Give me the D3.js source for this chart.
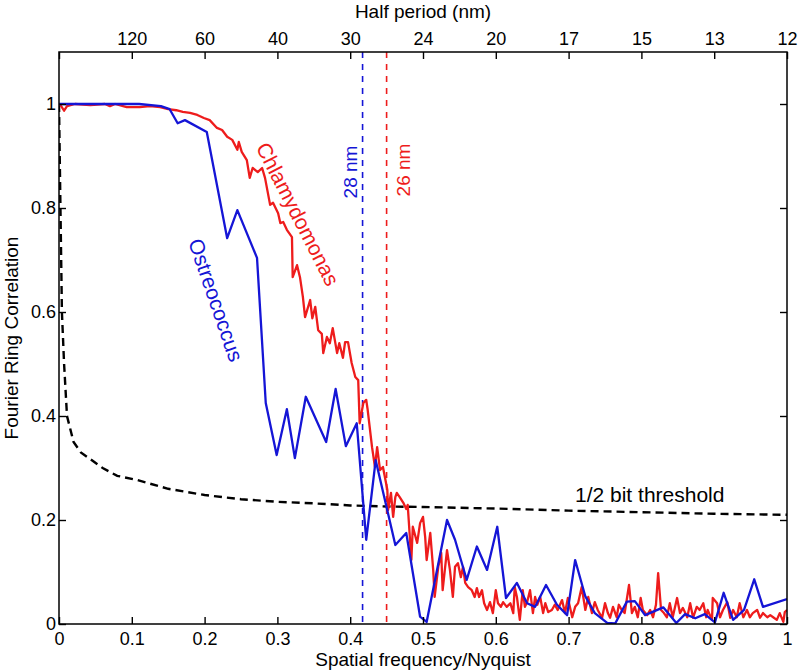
<!DOCTYPE html>
<html>
<head>
<meta charset="utf-8">
<script src="https://cdn.jsdelivr.net/npm/d3@7"></script>
<style>
  html, body { margin: 0; padding: 0; background: #fff; }
  svg { display: block; font-family: "Liberation Sans", Arial, Helvetica, sans-serif; }
</style>
</head>
<body>
<svg id="chart" width="799" height="672"></svg>
<script>
// ---------------- data ----------------
const xTicks = [0, 0.1, 0.2, 0.3, 0.4, 0.5, 0.6, 0.7, 0.8, 0.9, 1];
const yTicks = [0, 0.2, 0.4, 0.6, 0.8, 1];
const topTickLabels = ["", "120", "60", "40", "30", "24", "20", "17", "15", "13", "12"];

const chlamyFreq = [0,0.003,0.007,0.011,0.022,0.043,0.063,0.070,0.077,0.093,0.111,0.125,0.139,0.150,0.161,0.170,0.180,0.190,0.199,0.207,0.217,0.224,0.231,0.238,0.245,0.247,0.251,0.258,0.262,0.266,0.273,0.279,0.283,0.290,0.294,0.301,0.304,0.308,0.313,0.320,0.321,0.327,0.331,0.335,0.338,0.345,0.348,0.352,0.356,0.361,0.363,0.368,0.372,0.376,0.382,0.385,0.390,0.393,0.397,0.402,0.407,0.411,0.413,0.418,0.422,0.424,0.430,0.434,0.437,0.441,0.445,0.451,0.452,0.456,0.459,0.462,0.464,0.468,0.473,0.477,0.479,0.484,0.486,0.492,0.496,0.500,0.503,0.505,0.510,0.514,0.516,0.521,0.525,0.527,0.530,0.533,0.537,0.541,0.544,0.548,0.552,0.555,0.558,0.562,0.567,0.571,0.574,0.577,0.581,0.584,0.588,0.592,0.596,0.600,0.603,0.607,0.610,0.615,0.620,0.624,0.626,0.629,0.633,0.637,0.640,0.643,0.647,0.651,0.654,0.657,0.661,0.665,0.668,0.672,0.677,0.681,0.685,0.691,0.695,0.699,0.705,0.709,0.713,0.718,0.723,0.727,0.732,0.736,0.740,0.746,0.750,0.754,0.757,0.761,0.766,0.769,0.773,0.777,0.783,0.787,0.791,0.795,0.799,0.802,0.808,0.812,0.816,0.820,0.823,0.827,0.831,0.835,0.839,0.843,0.849,0.853,0.857,0.863,0.867,0.871,0.876,0.880,0.885,0.889,0.891,0.897,0.898,0.904,0.908,0.912,0.918,0.922,0.926,0.931,0.935,0.940,0.945,0.949,0.953,0.959,0.963,0.967,0.973,0.977,0.981,0.986,0.990,0.995,0.997,1.0];
const chlamyFRC = [1.0,0.996,0.987,0.996,1.0,0.998,1.0,0.996,1.0,0.994,0.994,0.996,0.994,0.990,0.988,0.985,0.983,0.979,0.973,0.969,0.954,0.950,0.937,0.931,0.912,0.927,0.908,0.892,0.858,0.877,0.869,0.877,0.858,0.806,0.810,0.790,0.771,0.773,0.758,0.744,0.667,0.690,0.667,0.629,0.590,0.623,0.588,0.610,0.565,0.558,0.521,0.552,0.540,0.569,0.521,0.540,0.512,0.542,0.542,0.502,0.475,0.469,0.386,0.425,0.431,0.412,0.340,0.302,0.340,0.296,0.302,0.258,0.219,0.252,0.206,0.244,0.252,0.244,0.233,0.221,0.229,0.123,0.187,0.156,0.194,0.206,0.167,0.123,0.175,0.104,0.052,0.110,0.137,0.065,0.104,0.142,0.104,0.052,0.110,0.117,0.090,0.110,0.079,0.071,0.065,0.052,0.069,0.052,0.065,0.040,0.027,0.042,0.021,0.065,0.040,0.033,0.042,0.033,0.040,0.021,0.071,0.052,0.008,0.065,0.033,0.042,0.065,0.021,0.052,0.037,0.052,0.021,0.040,0.023,0.027,0.037,0.027,0.046,0.021,0.050,0.013,0.033,0.040,0.071,0.027,0.052,0.021,0.042,0.027,0.012,0.040,0.021,0.012,0.033,0.013,0.037,0.027,0.021,0.075,0.021,0.033,0.013,0.050,0.027,0.017,0.027,0.013,0.037,0.098,0.027,0.021,0.013,0.040,0.013,0.050,0.021,0.031,0.013,0.040,0.012,0.033,0.027,0.040,0.013,0.027,0.008,0.050,0.040,0.013,0.027,0.042,0.012,0.027,0.013,0.040,0.013,0.027,0.013,0.021,0.027,0.012,0.021,0.013,0.017,0.013,0.008,0.021,0.004,0.023,0.027];

const ostreoFreq = [0,0.110,0.140,0.152,0.163,0.173,0.203,0.231,0.245,0.272,0.284,0.299,0.313,0.324,0.339,0.367,0.380,0.394,0.409,0.422,0.435,0.462,0.477,0.496,0.505,0.533,0.544,0.560,0.574,0.588,0.602,0.614,0.629,0.643,0.654,0.669,0.684,0.698,0.709,0.723,0.736,0.753,0.764,0.780,0.791,0.805,0.830,0.848,0.860,0.874,0.887,0.901,0.913,0.926,0.941,0.955,0.967,1.0];
const ostreoFRC = [1.0,1.0,0.996,0.990,0.963,0.969,0.946,0.742,0.796,0.704,0.425,0.325,0.413,0.319,0.437,0.350,0.452,0.342,0.386,0.162,0.315,0.152,0.175,0.014,0.004,0.200,0.162,0.085,0.149,0.104,0.187,0.050,0.079,0.040,0.033,0.075,0.037,0.017,0.123,0.053,0.021,0.002,0.001,0.043,0.044,0.017,0.032,0.002,0.019,0.011,0.019,0.003,0.060,0.008,0.027,0.086,0.033,0.048];

const thresholdFreq = [0,0.002,0.004,0.007,0.011,0.02,0.03,0.043,0.06,0.08,0.107,0.15,0.2,0.25,0.3,0.35,0.4,0.45,0.5,0.6,0.7,0.8,0.9,1.0];
const thresholdFRC = [1.0,0.8,0.6,0.5,0.4,0.35,0.33,0.317,0.3,0.285,0.277,0.26,0.248,0.24,0.235,0.232,0.228,0.226,0.225,0.222,0.218,0.215,0.212,0.21];

const resolutionFreq = [0.417, 0.450];
const resolutionLabels = ["28 nm", "26 nm"];

const seriesNames = ["Chlamydomonas", "Ostreococcus"];
const thresholdLabel = "1/2 bit threshold";

// ---------------- layout ----------------
(function () {
const pL = 59, pR = 787, pT = 52, pB = 624;
const RED = "#ee1c1c", BLUE = "#1515d6";

const svg = d3.select("#chart");
const x = d3.scaleLinear().domain([0, 1]).range([pL, pR]);
const y = d3.scaleLinear().domain([0, 1.1]).range([pB, pT]);

svg.append("defs").append("clipPath").attr("id", "clip")
  .append("rect").attr("x", pL).attr("y", pT).attr("width", pR - pL).attr("height", pB - pT);

const plot = svg.append("g").attr("clip-path", "url(#clip)");

const line = d3.line().x(d => x(d[0])).y(d => y(d[1]));

// threshold
plot.append("path")
  .datum(thresholdFreq.map((f, i) => [f, thresholdFRC[i]]))
  .attr("d", line).attr("fill", "none").attr("stroke", "#000")
  .attr("stroke-width", 2.4).attr("stroke-dasharray", "8,5");

// resolution lines
const resColors = [BLUE, RED];
resolutionFreq.forEach((f, i) => {
  plot.append("line")
    .attr("x1", x(f)).attr("x2", x(f)).attr("y1", pT).attr("y2", pB)
    .attr("stroke", resColors[i]).attr("stroke-width", 1.6).attr("stroke-dasharray", "6,6");
});

// curves
plot.append("path")
  .datum(chlamyFreq.map((f, i) => [f, chlamyFRC[i]]))
  .attr("d", line).attr("fill", "none").attr("stroke", RED)
  .attr("stroke-width", 2.3).attr("stroke-linejoin", "round");
plot.append("path")
  .datum(ostreoFreq.map((f, i) => [f, ostreoFRC[i]]))
  .attr("d", line).attr("fill", "none").attr("stroke", BLUE)
  .attr("stroke-width", 2.3).attr("stroke-linejoin", "round");

// axes
const fmt = d => d === 0 ? "0" : (d === 1 ? "1" : d3.format(".1f")(d));
const ax = svg.append("g");

const gB = ax.append("g").attr("transform", `translate(0,${pB})`)
  .call(d3.axisBottom(x).tickValues(xTicks).tickFormat(fmt).tickSize(-7).tickPadding(8));
const gT = ax.append("g").attr("transform", `translate(0,${pT})`)
  .call(d3.axisTop(x).tickValues(xTicks).tickFormat((d, i) => topTickLabels[i]).tickSize(-7).tickPadding(7));
const gL = ax.append("g").attr("transform", `translate(${pL},0)`)
  .call(d3.axisLeft(y).tickValues(yTicks).tickFormat(fmt).tickSize(-7).tickPadding(3));
const gR = ax.append("g").attr("transform", `translate(${pR},0)`)
  .call(d3.axisRight(y).tickValues(yTicks).tickFormat("").tickSize(-7));

[gB, gT, gL, gR].forEach(g => {
  g.select(".domain").remove();
  g.selectAll("line").attr("stroke", "#000").attr("stroke-width", 1.4);
  g.selectAll("text").attr("fill", "#000").attr("font-family", "Liberation Sans, Arial, sans-serif").attr("font-size", 18);
});

svg.append("rect").attr("x", pL).attr("y", pT).attr("width", pR - pL).attr("height", pB - pT)
  .attr("fill", "none").attr("stroke", "#000").attr("stroke-width", 1.5);

// titles
svg.append("text").attr("x", (pL + pR) / 2).attr("y", 666).attr("text-anchor", "middle")
  .attr("font-size", 19).text("Spatial frequency/Nyquist");
svg.append("text").attr("x", (pL + pR) / 2).attr("y", 18).attr("text-anchor", "middle")
  .attr("font-size", 19).text("Half period (nm)");
svg.append("text").attr("transform", `translate(18,${(pT + pB) / 2}) rotate(-90)`)
  .attr("text-anchor", "middle").attr("font-size", 19).text("Fourier Ring Correlation");

// annotations
svg.append("text").attr("x", 575).attr("y", 502).attr("font-size", 21).text(thresholdLabel);

svg.append("text").attr("transform", `translate(${x(resolutionFreq[0]) - 6},172) rotate(-90)`)
  .attr("text-anchor", "middle").attr("font-size", 19).attr("fill", BLUE).text(resolutionLabels[0]);
svg.append("text").attr("transform", `translate(${x(resolutionFreq[1]) + 23},170) rotate(-90)`)
  .attr("text-anchor", "middle").attr("font-size", 19).attr("fill", RED).text(resolutionLabels[1]);

svg.append("text").attr("transform", "translate(298,214) rotate(63)")
  .attr("text-anchor", "middle").attr("dominant-baseline", "central")
  .attr("font-size", 21).attr("fill", RED).text(seriesNames[0]);
svg.append("text").attr("transform", "translate(216,300) rotate(71)")
  .attr("text-anchor", "middle").attr("dominant-baseline", "central")
  .attr("font-size", 21).attr("fill", BLUE).text(seriesNames[1]);
})();
</script>
</body>
</html>
